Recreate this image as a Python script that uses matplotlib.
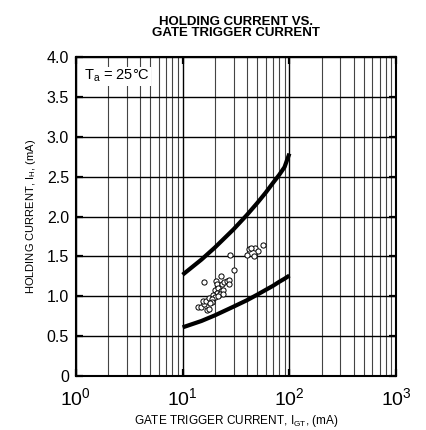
import matplotlib
matplotlib.use("Agg")
import matplotlib.pyplot as plt
from matplotlib.ticker import FixedLocator, LogLocator, NullFormatter

plt.rcParams['font.family'] = ['Liberation Sans', 'DejaVu Sans']
plt.rcParams['mathtext.fontset'] = 'custom'
plt.rcParams['mathtext.rm'] = 'Liberation Sans'
plt.rcParams['mathtext.it'] = 'Liberation Sans'

# limit curves
upper_x = [10, 15, 20, 30, 40, 50, 60, 70, 80, 90, 100]
upper_y = [1.27, 1.46, 1.61, 1.84, 2.02, 2.17, 2.30, 2.42, 2.52, 2.62, 2.79]
lower_x = [10, 15, 20, 30, 40, 50, 60, 70, 80, 90, 100]
lower_y = [0.61, 0.69, 0.76, 0.87, 0.95, 1.02, 1.08, 1.13, 1.18, 1.22, 1.26]

# measured devices
igt = [15.7, 22.9, 28.0, 30.3, 20.5, 20.8, 23.2, 24.6, 25.9, 27.2, 27.4,
       20.1, 21.6, 22.9, 24.0, 20.8, 22.4, 23.7, 19.4, 20.1, 21.6,
       13.8, 15.0, 16.0, 16.8, 17.8, 15.4, 16.6, 17.5, 18.7, 19.0, 18.0,
       42.2, 47.3, 50.5, 56.3, 40.4, 47.0, 44.0]
ih = [1.175, 1.25, 1.52, 1.33, 1.19, 1.15, 1.16, 1.175, 1.195, 1.20, 1.15,
      1.08, 1.10, 1.07, 1.08, 1.04, 1.025, 1.03, 1.015, 0.995, 1.0,
      0.865, 0.865, 0.90, 0.83, 0.84, 0.94, 0.94, 0.98, 0.96, 0.93, 0.91,
      1.59, 1.61, 1.57, 1.645, 1.515, 1.51, 1.60]

fig = plt.figure(figsize=(4.26, 4.30), dpi=100)
ax = fig.add_axes([0.178, 0.1256, 0.752, 0.7416])

ax.set_xscale('log')
ax.set_xlim(1, 1000)
ax.set_ylim(0, 4.0)

ax.xaxis.set_major_locator(LogLocator(base=10, numticks=10))
ax.xaxis.set_minor_locator(LogLocator(base=10, subs=range(2, 10), numticks=20))
ax.xaxis.set_minor_formatter(NullFormatter())
yt = [0, 0.5, 1.0, 1.5, 2.0, 2.5, 3.0, 3.5, 4.0]
ax.yaxis.set_major_locator(FixedLocator(yt))
ax.set_yticklabels(['0'] + ['%.1f' % v for v in yt[1:]])

ax.grid(True, which='major', axis='both', color='black', lw=1.0)
ax.grid(True, which='minor', axis='x', color='#444444', lw=0.8)
ax.tick_params(which='major', direction='in', length=5, width=1.6,
               top=True, right=True)
ax.tick_params(axis='y', labelsize=11.5, pad=5)
ax.tick_params(axis='x', labelsize=14, pad=8)
ax.tick_params(which='minor', length=0)
for s in ax.spines.values():
    s.set_linewidth(1.5)

ax.plot(upper_x, upper_y, color='black', lw=3, solid_capstyle='butt', zorder=4)
ax.plot(lower_x, lower_y, color='black', lw=3, solid_capstyle='butt', zorder=4)
ax.scatter(igt, ih, s=14, facecolors='white', edgecolors='black',
           linewidths=0.7, zorder=5)

ax.text(1.18, 3.76, r'T$_\mathregular{a}$ = 25°C', fontsize=10.5, va='center',
        bbox=dict(facecolor='white', edgecolor='none', pad=1.0), zorder=6)

ax.set_title('HOLDING CURRENT VS.\nGATE TRIGGER CURRENT', fontsize=9.5,
             fontweight='bold', pad=15, linespacing=0.95)
ax.set_xlabel(r'GATE TRIGGER CURRENT, I$_\mathregular{GT}$, (mA)', fontsize=8.5, labelpad=3)
ax.set_ylabel(r'HOLDING CURRENT, I$_\mathregular{H}$, (mA)', fontsize=8, labelpad=6)

fig.savefig('out.png', dpi=100)
